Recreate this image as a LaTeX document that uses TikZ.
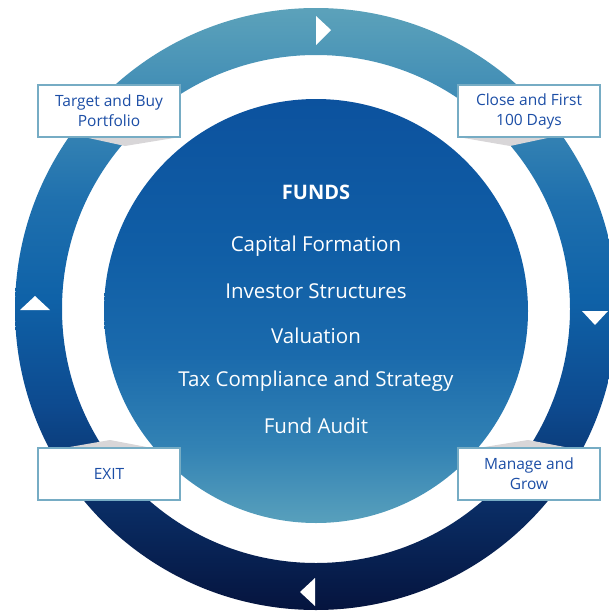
\documentclass[tikz,border=0pt]{standalone}
\usepackage{fontspec}
\setmainfont{Open Sans}
\usetikzlibrary{positioning, shapes, calc}
\definecolor{ringa}{RGB}{5,20,62}
\definecolor{ringb}{RGB}{10,46,102}
\definecolor{ringc}{RGB}{13,74,143}
\definecolor{ringd}{RGB}{15,98,168}
\definecolor{ringe}{RGB}{31,112,174}
\definecolor{ringf}{RGB}{61,138,181}
\definecolor{ringg}{RGB}{92,162,186}
\definecolor{corea}{RGB}{88,160,188}
\definecolor{coreb}{RGB}{50,130,180}
\definecolor{corec}{RGB}{26,106,172}
\definecolor{cored}{RGB}{16,94,166}
\definecolor{coree}{RGB}{12,82,158}
\definecolor{boxline}{RGB}{118,172,196}
\definecolor{boxtext}{RGB}{28,78,166}
\definecolor{fold}{RGB}{216,214,216}
\pgfdeclareverticalshading{ringshade}{100bp}{color(0bp)=(ringa); color(25bp)=(ringa);
  color(34bp)=(ringb); color(42bp)=(ringc); color(51bp)=(ringd); color(59bp)=(ringe);
  color(67bp)=(ringf); color(75bp)=(ringg); color(100bp)=(ringg)}
\pgfdeclareverticalshading{coreshade}{100bp}{color(0bp)=(corea); color(25bp)=(corea);
  color(34bp)=(coreb); color(45bp)=(corec); color(57bp)=(cored); color(75bp)=(coree);
  color(100bp)=(coree)}
\tikzset{%
  stage/.style = {draw = boxline, line width = 1.5pt, fill = white,
    minimum width = 142pt, minimum height = 52pt, align = center,
    text = boxtext, font = \fontsize{15.5}{20}\selectfont}, % Stage box
  head/.style  = {text = white, font = \fontsize{20}{24}\selectfont\bfseries}, % Title
  item/.style  = {text = white, font = \fontsize{20.5}{24}\selectfont}, % Service
  tip/.style   = {fill = white} % Ring arrow
}

\begin{document}
\begin{tikzpicture}[x = 1pt, y = -1pt]
\useasboundingbox (0,0) rectangle (608,613);
\coordinate (c) at (316,309);
%ring and core
\shade[shading = ringshade, even odd rule]
	(c) circle (301pt) (c) circle (254pt);
\shade[shading = coreshade]
	(316,311) circle (212pt);
%folds
\fill[fold] (84,137) -- (125,146) -- (180,137) -- cycle;
\fill[fold] (458,137) -- (510,146) -- (552,137) -- cycle;
\fill[fold] (64,448) -- (110,440) -- (152,448) -- cycle;
\fill[fold] (478,448) -- (528,440) -- (570,448) -- cycle;
%arrows on the ring
\fill[tip] (316,16) -- (331,30) -- (316,45) -- cycle;
\fill[tip] (20,310) -- (35,296) -- (50,310) -- cycle;
\fill[tip] (582,311) -- (608,311) -- (595,325) -- cycle;
\fill[tip] (315,578) -- (300,592) -- (315,606) -- cycle;
%blocks
\draw
	(109,111) node [stage] (buy) {Target and Buy\\Portfolio}
	(529,111) node [stage] (close) {Close and First\\100 Days}
	(529,474) node [stage] (grow) {Manage and\\Grow}
	(109,474) node [stage] (exit) {EXIT};
%services
\draw
	(316,192) node [head] (funds) {FUNDS}
	(316,246) node [item] (capital) {Capital Formation}
	(316,291) node [item] (investor) {Investor Structures}
	(316,336) node [item] (valuation) {Valuation}
	(316,381) node [item] (tax) {Tax Compliance and Strategy}
	(316,426) node [item] (audit) {Fund Audit};
\end{tikzpicture}
\end{document}
